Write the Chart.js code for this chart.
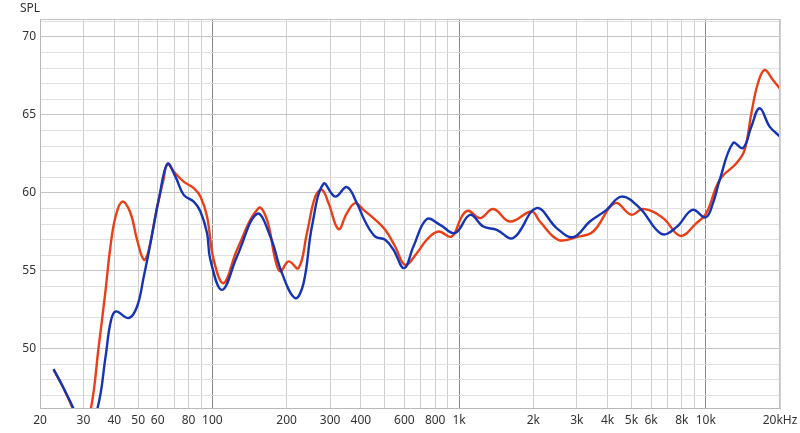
<!DOCTYPE html>
<html>
<head>
<meta charset="utf-8">
<script src="https://cdn.jsdelivr.net/npm/chart.js@4.4.0/dist/chart.umd.min.js"></script>
<style>
  html, body { margin: 0; padding: 0; background: #fff; }
  #wrap { width: 800px; height: 433px; }
</style>
</head>
<body>
<div id="wrap"><canvas id="spl"></canvas></div>
<script>
// frequency response
const redFreq = [22.7, 24.7, 27.1, 29.5, 32.1, 34.6, 36.9, 38.6, 40.5, 43.1, 46.5, 49.5, 52.7, 55, 59.7, 63.3, 65.7, 69.7, 76.5, 84, 89.4, 95.1, 101.2, 111.1, 125.8, 153.9, 166.5, 179.9, 188.4, 203.6, 223.4, 241.7, 261.1, 278, 295.6, 324.6, 350.9, 379.1, 409.6, 449.6, 501.4, 550.6, 604.2, 674, 739.6, 824.2, 933.8, 1025, 1090, 1216, 1376, 1608, 1968, 2126, 2522, 2994, 3496, 4280, 5000, 5572, 6714, 7896, 9166, 10060, 11390, 13310, 14378, 15308, 16276, 17328, 18726, 20000];
const redSpl = [48.65, 47.6, 46.2, 44.6, 46.1, 50.15, 53.78, 56.56, 58.48, 59.44, 58.72, 56.99, 55.71, 56.24, 59.12, 60.83, 61.86, 61.37, 60.72, 60.3, 59.76, 58.48, 55.71, 54.21, 56.35, 59.02, 58.27, 55.71, 54.96, 55.6, 55.17, 57.42, 59.76, 60.19, 59.34, 57.67, 58.7, 59.34, 58.91, 58.38, 57.63, 56.56, 55.38, 56.13, 56.99, 57.52, 57.2, 58.48, 58.85, 58.38, 58.96, 58.16, 58.8, 58.16, 56.99, 57.16, 57.52, 59.34, 58.59, 58.97, 58.38, 57.24, 58.06, 58.7, 60.83, 61.9, 62.76, 65.11, 67.03, 67.88, 67.24, 66.67];

const blueFreq = [22.7, 24.7, 27.1, 30.5, 34.1, 36.9, 38.6, 40.5, 45.8, 49.5, 52.7, 56.1, 60.6, 65.7, 70.8, 76.5, 84, 89.4, 95.1, 98.1, 109.4, 125.8, 151.7, 171.7, 191.4, 216.6, 234.2, 253.2, 282.2, 314.6, 350.9, 385.2, 416.2, 456.8, 501.4, 541.8, 598.6, 653, 739.6, 837.4, 963, 1108, 1254, 1421, 1658, 2062, 2486, 2900, 3390, 3962, 4556, 5404, 6614, 7608, 8832, 9994, 10700, 11390, 12894, 14150, 15308, 16536, 18154, 20000];
const blueSpl = [48.7, 47.6, 46.3, 44.6, 46.1, 49.51, 51.65, 52.39, 51.97, 52.71, 54.63, 56.78, 59.55, 61.86, 61.04, 59.87, 59.44, 58.8, 57.42, 55.71, 53.78, 55.92, 58.65, 57.2, 54.85, 53.25, 54.21, 57.84, 60.58, 59.76, 60.37, 59.34, 58.16, 57.2, 56.99, 56.35, 55.17, 56.56, 58.31, 57.95, 57.42, 58.59, 57.84, 57.63, 57.1, 59.02, 57.74, 57.16, 58.16, 58.91, 59.76, 59.02, 57.37, 57.8, 58.91, 58.42, 59.34, 60.83, 63.19, 62.87, 64.25, 65.43, 64.25, 63.61];

const freqTicks = [20, 30, 40, 50, 60, 70, 80, 90, 100, 200, 300, 400, 500, 600, 700, 800, 900, 1000, 2000, 3000, 4000, 5000, 6000, 7000, 8000, 9000, 10000, 20000];
const freqLabels = {20: '20', 30: '30', 40: '40', 50: '50', 60: '60', 80: '80', 100: '100', 200: '200', 300: '300', 400: '400', 600: '600', 800: '800', 1000: '1k', 2000: '2k', 3000: '3k', 4000: '4k', 5000: '5k', 6000: '6k', 8000: '8k', 10000: '10k', 20000: '20kHz'};
const splTicks = [47, 48, 49, 50, 51, 52, 53, 54, 55, 56, 57, 58, 59, 60, 61, 62, 63, 64, 65, 66, 67, 68, 69, 70, 71];

function pts(fs, vs) {
  return fs.map((f, i) => ({x: f, y: vs[i]}));
}

const frame = {
  id: 'frame',
  afterDraw(chart) {
    const c = chart.ctx, a = chart.chartArea;
    c.save();
    c.strokeStyle = '#c4c4c4';
    c.lineWidth = 1;
    c.beginPath();
    c.moveTo(a.left, a.top + 0.5);
    c.lineTo(a.right, a.top + 0.5);
    c.moveTo(a.right - 0.5, a.top);
    c.lineTo(a.right - 0.5, a.bottom);
    c.stroke();
    c.fillStyle = '#333';
    c.font = '12px "Noto Sans"';
    c.textBaseline = 'middle';
    c.fillText('SPL', 20, 9);
    c.restore();
  }
};

new Chart(document.getElementById('spl'), {
  type: 'line',
  data: {
    datasets: [{
      data: pts(blueFreq, blueSpl),
      borderColor: '#1434b4',
      borderWidth: 2.4,
      pointRadius: 0,
      tension: 0.4
    }, {
      data: pts(redFreq, redSpl),
      borderColor: '#ea3f16',
      borderWidth: 2.4,
      pointRadius: 0,
      tension: 0.4
    }]
  },
  options: {
    responsive: true,
    maintainAspectRatio: false,
    animation: false,
    layout: { padding: { top: 19, right: 20, left: 0, bottom: 0 } },
    plugins: { legend: { display: false }, tooltip: { enabled: false } },
    scales: {
      x: {
        type: 'logarithmic',
        min: 20,
        max: 20000,
        afterBuildTicks: (s) => { s.ticks = freqTicks.map(v => ({value: v})); },
        afterFit: (s) => { s.height = 25; s.paddingRight = 0; s.paddingLeft = 0; },
        ticks: {
          autoSkip: false,
          maxRotation: 0,
          padding: 5,
          color: '#333',
          font: { family: 'Noto Sans', size: 12 },
          callback: (v) => freqLabels[v] || ''
        },
        grid: {
          color: (ctx) => [100, 1000, 10000].includes(ctx.tick && ctx.tick.value) ? '#8a8a8a' : '#cfcfcf',
          drawTicks: false
        },
        border: { color: '#b8b8b8' }
      },
      y: {
        min: 46.2,
        max: 71.15,
        afterBuildTicks: (s) => { s.ticks = splTicks.map(v => ({value: v})); },
        afterFit: (s) => { s.width = 40; s.paddingTop = 0; s.paddingBottom = 0; },
        ticks: {
          autoSkip: false,
          padding: 4,
          color: '#333',
          font: { family: 'Noto Sans', size: 12 },
          callback: (v) => v % 5 === 0 ? String(v) : ''
        },
        grid: {
          color: (ctx) => (ctx.tick && ctx.tick.value % 5 === 0) ? '#c4c4c4' : '#e0e0e0',
          drawTicks: false
        },
        border: { color: '#b8b8b8' }
      }
    }
  },
  plugins: [frame]
});
</script>
</body>
</html>
